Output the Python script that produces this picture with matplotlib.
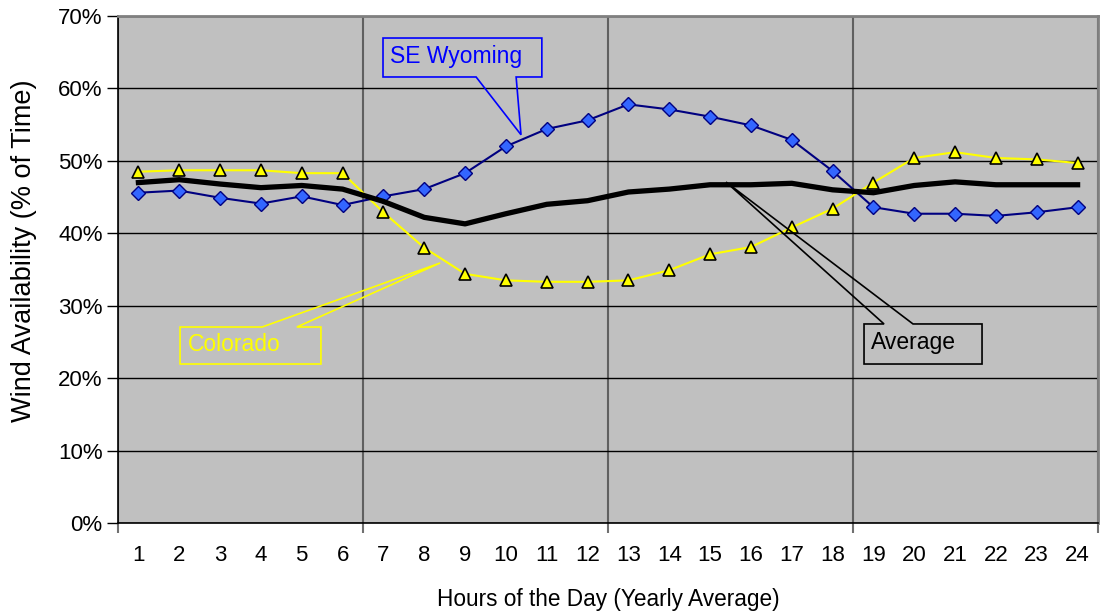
import numpy as np
import matplotlib.pyplot as plt
from matplotlib.patches import Polygon
from matplotlib.ticker import FuncFormatter

plt.rcParams['font.family'] = ['Liberation Sans', 'DejaVu Sans']

hours = list(range(1, 25))
wyoming = [45.6, 45.9, 44.9, 44.1, 45.1, 43.9, 45.1, 46.1, 48.3, 52.0, 54.4, 55.6,
           57.8, 57.1, 56.1, 54.9, 52.9, 48.6, 43.6, 42.7, 42.7, 42.4, 42.9, 43.6]
colorado = [48.5, 48.7, 48.7, 48.7, 48.3, 48.3, 42.9, 38.0, 34.4, 33.5, 33.3, 33.3,
            33.5, 34.9, 37.1, 38.1, 40.8, 43.4, 47.0, 50.4, 51.2, 50.4, 50.2, 49.7]
average = [47.0, 47.4, 46.8, 46.3, 46.6, 46.1, 44.4, 42.2, 41.3, 42.7, 44.0, 44.5,
           45.7, 46.1, 46.7, 46.7, 46.9, 46.0, 45.6, 46.6, 47.1, 46.7, 46.7, 46.7]

fig = plt.figure(figsize=(11.04, 6.13), dpi=100)
ax = fig.add_axes([118 / 1104, 90 / 613, 980 / 1104, 507 / 613])
ax.set_facecolor('#C0C0C0')

ax.plot(hours, colorado, color='#FFFF00', lw=1.5, marker='^', ms=9,
        mfc='#FFFF00', mec='black', mew=1.2, zorder=3)
ax.plot(hours, wyoming, color='#000080', lw=1.5, marker='D', ms=7,
        mfc='#3366FF', mec='#000080', mew=1.0, zorder=3)
ax.plot(hours, average, color='black', lw=3.8, zorder=4)

ax.set_xlim(0.5, 24.5)
ax.set_ylim(0, 70)

# y axis
ax.set_yticks(np.arange(0, 71, 10))
ax.yaxis.set_major_formatter(FuncFormatter(lambda v, p: f'{v:.0f}%'))
ax.tick_params(axis='y', direction='out', length=8, width=1, color='black',
               labelsize=16, pad=3)
ax.yaxis.grid(True, color='black', lw=1)

# x axis: ticks every 6 hours, labels on each hour
ax.set_xticks([0.5, 6.5, 12.5, 18.5, 24.5])
ax.set_xticklabels([])
ax.set_xticks(hours, minor=True)
ax.set_xticklabels([str(h) for h in hours], minor=True)
ax.tick_params(axis='x', which='major', direction='out', length=7, width=1.5,
               color='#707070')
ax.tick_params(axis='x', which='minor', length=0, labelsize=16, pad=16)
ax.xaxis.grid(True, which='major', color='#606060', lw=1.5)
ax.set_axisbelow(True)

for s in ['left', 'bottom']:
    ax.spines[s].set_color('black')
    ax.spines[s].set_linewidth(1.2)
for s in ['top', 'right']:
    ax.spines[s].set_color('#808080')
    ax.spines[s].set_linewidth(2)

ax.set_xlabel('Hours of the Day (Yearly Average)', fontsize=16.3, labelpad=16)
ax.set_ylabel('Wind Availability (% of Time)', fontsize=19.5)
ax.yaxis.set_label_coords(-0.0827, 0.536)


def callout(x0, x1, y0, y1, w0, w1, tip, edge, text, color):
    # rectangle with a wedge pointer on its top or bottom edge
    if edge == 'bottom':
        pts = [(x0, y1), (x1, y1), (x1, y0), (w1, y0), tip, (w0, y0), (x0, y0)]
    else:
        pts = [(x0, y0), (x0, y1), (w0, y1), tip, (w1, y1), (x1, y1), (x1, y0)]
    ax.add_patch(Polygon(pts, closed=True, fill=False, edgecolor=color,
                         lw=1.2, zorder=5, clip_on=False))
    ax.text(x0 + 0.18, (y0 + y1) / 2 + 0.2, text, color=color, fontsize=16.5,
            va='center', ha='left', zorder=6)


callout(6.99, 10.88, 61.58, 66.96, 9.27, 10.25, (10.37, 53.6), 'bottom',
        'SE Wyoming', '#0000FF')
callout(2.02, 5.47, 21.95, 27.06, 4.03, 4.88, (8.39, 35.9), 'top',
        'Colorado', '#FFFF00')
callout(18.77, 21.66, 21.95, 27.48, 19.26, 19.97, (15.39, 47.08), 'top',
        'Average', 'black')

fig.savefig('out.png', dpi=100)
